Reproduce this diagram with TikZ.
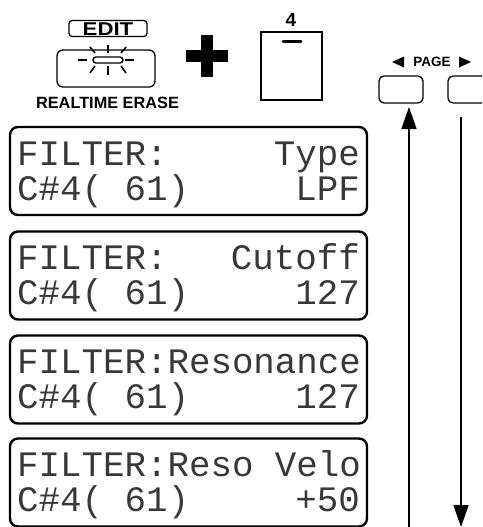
\documentclass[tikz,border=0pt]{standalone}
\usepackage{fontspec}
\setmainfont{Liberation Sans}
\newfontfamily\lcdfont{Liberation Mono}
\usetikzlibrary{arrows.meta}
\tikzset{
  lcdbox/.style={draw, line width=2.4pt, rounded corners=8pt, minimum width=357pt, minimum height=88pt, inner sep=0pt},
  lcdL/.style={anchor=base west, inner sep=0pt, font=\lcdfont\fontsize{35.8}{36}\selectfont, text=black!78},
  lcdR/.style={anchor=base east, inner sep=0pt, font=\lcdfont\fontsize{35.8}{36}\selectfont, text=black!78},
  btn/.style={draw, line width=1.3pt, rounded corners=5pt, inner sep=0pt},
  lbl/.style={inner sep=0pt, font=\bfseries},
  ray/.style={line width=1.6pt},
  pagearrow/.style={line width=1.6pt, -{Triangle[length=22pt,width=15pt]}}
}
\begin{document}
\begin{tikzpicture}[x=1pt,y=-1pt]
\useasboundingbox (0,0) rectangle (482,527);
\clip (0,0) rectangle (482,527);

% EDIT button
\node[btn, rounded corners=3pt, minimum width=78pt, minimum height=16pt] (editlbl) at (108,28.5) {};
\node[lbl, font=\bfseries\fontsize{18.5}{18}\selectfont, xscale=1.2] (edittxt) at (108,29.3) {EDIT};
\node[btn, rounded corners=6pt, minimum width=98pt, minimum height=37pt] (editbtn) at (106,68.5) {};
% LED with rays
\draw[line width=1.4pt, rounded corners=3pt] (93,57) rectangle (123,63);
\draw[ray] (78,60) -- (87,60);
\draw[ray] (125,60) -- (134,60);
\draw[ray] (108,45) -- (108,53);
\draw[ray] (108,66) -- (108,75);
\draw[ray] (90,47) -- (95,53);
\draw[ray] (126,47) -- (121,53);
\draw[ray] (95,66) -- (90,73);
\draw[ray] (121,66) -- (126,73);
\node[lbl, font=\bfseries\fontsize{16.3}{16}\selectfont] (rterase) at (107.5,102.5) {REALTIME ERASE};

% plus
\fill (201,35) rectangle (213,77);
\fill (186,50) rectangle (228,62);

% key 4
\node[lbl, font=\bfseries\fontsize{19}{19}\selectfont] (four) at (291,19.5) {4};
\node[draw, line width=1.3pt, minimum width=61pt, minimum height=68pt, inner sep=0pt] (key4) at (291.5,66) {};
\draw[line width=3pt, line cap=round] (283,42) -- (301,42);

% PAGE
\fill (392,62) -- (404,56.5) -- (404,67.5) -- cycle;
\fill (471,62) -- (459,56.5) -- (459,67.5) -- cycle;
\node[lbl, font=\bfseries\fontsize{13.5}{13}\selectfont] (pagetxt) at (432,62) {PAGE};
\node[btn, minimum width=44pt, minimum height=27pt] (pgL) at (401,89.5) {};
\node[btn, minimum width=44pt, minimum height=27pt] (pgR) at (470,89.5) {};

% arrows
\coordinate (upStart) at (409,530);
\coordinate (upEnd) at (409,107);
\coordinate (dnStart) at (461,117);
\coordinate (dnEnd) at (461,527);
\draw[pagearrow] (upStart) -- (upEnd);
\draw[pagearrow] (dnStart) -- (dnEnd);

% LCD screens
\node[lcdbox] (lcd1) at (188.5,171) {};
\node[lcdbox] (lcd2) at (188.5,275.5) {};
\node[lcdbox] (lcd3) at (188.5,379.5) {};
\node[lcdbox] (lcd4) at (188.5,482.5) {};

\node[lcdL] (l1a) at (17,165) {FILTER:};
\node[lcdR] (l1b) at (360,165) {Type};
\node[lcdL] (l1c) at (17,200) {C\#4( 61)};
\node[lcdR] (l1d) at (360,200) {LPF};

\node[lcdL] (l2a) at (17,269.5) {FILTER:};
\node[lcdR] (l2b) at (360,269.5) {Cutoff};
\node[lcdL] (l2c) at (17,304.5) {C\#4( 61)};
\node[lcdR] (l2d) at (360,304.5) {127};

\node[lcdL] (l3a) at (17,373.5) {FILTER:Resonance};
\node[lcdL] (l3c) at (17,408.5) {C\#4( 61)};
\node[lcdR] (l3d) at (360,408.5) {127};

\node[lcdL] (l4a) at (17,476.5) {FILTER:Reso Velo};
\node[lcdL] (l4c) at (17,511.5) {C\#4( 61)};
\node[lcdR] (l4d) at (360,511.5) {+50};
\end{tikzpicture}
\end{document}
